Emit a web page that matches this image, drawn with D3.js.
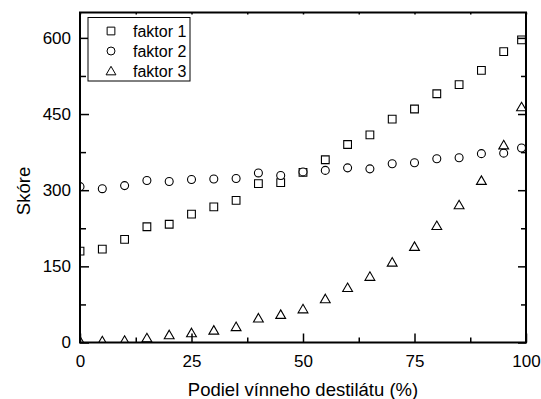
<!DOCTYPE html>
<html><head><meta charset="utf-8">
<script src="https://cdn.jsdelivr.net/npm/d3@7"></script>
<style>body{margin:0;background:#fff}svg{display:block}text{font-family:Arial,"Liberation Sans",sans-serif;fill:#000}</style>
</head><body><svg id="c" width="541" height="399"></svg>
<script>
const xValues = [0,5,10,15,20,25,30,35,40,45,50,55,60,65,70,75,80,85,90,95,99];
const faktor1 = [180,184,203,228,233,253,267,280,313,315,335,360,390,409,440,460,490,508,536,573,596];
const faktor2 = [307,303,309,319,317,321,322,323,334,329,336,339,344,342,352,354,362,364,372,373,383];
const faktor3 = [3,3,4,9,15,19,24,31,48,55,66,86,108,130,158,189,230,271,319,389,464];
const seriesNames = ["faktor 1","faktor 2","faktor 3"];
const xTicks = [0,25,50,75,100];
const xMinor = [12.5,37.5,62.5,87.5];
const yTicks = [0,150,300,450,600];
const yMinor = [75,225,375,525];
const xLabel = "Podiel vínneho destilátu (%)";
const yLabel = "Skóre";

const L=80,R=526,T=12.5,B=342.5;
const svg=d3.select("#c");
const x=d3.scaleLinear().domain([0,100]).range([L,R]);
const y=d3.scaleLinear().domain([0,650]).range([B,T]);

svg.append("defs").append("clipPath").attr("id","clip").append("rect")
  .attr("x",L).attr("y",T).attr("width",R-L).attr("height",B-T);

const symbols=[d3.symbolSquare,d3.symbolCircle,d3.symbolTriangle];
const sizes=[60,50,42];
const data=[faktor1,faktor2,faktor3];
const gPts=svg.append("g").attr("clip-path","url(#clip)");
data.forEach((vals,i)=>{
  const sym=d3.symbol().type(symbols[i]).size(sizes[i]);
  gPts.selectAll(null).data(vals).enter().append("path")
    .attr("d",sym)
    .attr("transform",(d,j)=>`translate(${x(xValues[j])},${y(d)+(i==2?1:0)})`)
    .attr("fill","#fff").attr("stroke","#000").attr("stroke-width",1.1);
});

// axes with inward ticks
const ax=(g,gen)=>{g.call(gen);g.select(".domain").remove();g.selectAll("line").attr("stroke","#000").attr("stroke-width",1.5);};
svg.append("g").attr("transform",`translate(0,${B})`).call(g=>ax(g,d3.axisBottom(x).tickValues(xTicks).tickSize(-9).tickPadding(12).tickFormat(d3.format("d"))))
  .selectAll("text").attr("font-size",17);
svg.append("g").attr("transform",`translate(0,${B})`).call(g=>ax(g,d3.axisBottom(x).tickValues(xMinor).tickSize(-5).tickFormat("")));
svg.append("g").attr("transform",`translate(${L},0)`).call(g=>ax(g,d3.axisLeft(y).tickValues(yTicks).tickSize(-9).tickPadding(9).tickFormat(d3.format("d"))))
  .selectAll("text").attr("font-size",17);
svg.append("g").attr("transform",`translate(${L},0)`).call(g=>ax(g,d3.axisLeft(y).tickValues(yMinor).tickSize(-6).tickFormat("")));
svg.append("g").attr("transform",`translate(${R},0)`).call(g=>ax(g,d3.axisRight(y).tickValues(yTicks).tickSize(-8).tickFormat("")));
svg.append("g").attr("transform",`translate(${R},0)`).call(g=>ax(g,d3.axisRight(y).tickValues(yMinor).tickSize(-5).tickFormat("")));
svg.append("g").attr("transform",`translate(0,${T})`).call(g=>ax(g,d3.axisTop(x).tickValues(xTicks.concat(xMinor)).tickSize(-2).tickFormat("")));

svg.append("rect").attr("x",L).attr("y",T).attr("width",R-L).attr("height",B-T)
  .attr("fill","none").attr("stroke","#000").attr("stroke-width",2);

svg.append("text").attr("x",(L+R)/2).attr("y",396).attr("text-anchor","middle").attr("font-size",18.5).text(xLabel);
svg.append("text").attr("transform","translate(30,191) rotate(-90)").attr("text-anchor","middle").attr("font-size",18.5).text(yLabel);

// legend
const lg=svg.append("g");
lg.append("rect").attr("x",88).attr("y",17.5).attr("width",102).attr("height",63.5).attr("fill","#fff").attr("stroke","#000").attr("stroke-width",1);
seriesNames.forEach((n,i)=>{
  const cy=31+i*20;
  lg.append("path").attr("d",d3.symbol().type(symbols[i]).size(sizes[i])()).attr("transform",`translate(111,${cy+(i==2?1:0)})`)
    .attr("fill","#fff").attr("stroke","#000");
  lg.append("text").attr("x",133).attr("y",cy+5.5).attr("font-size",16).text(n);
});
</script></body></html>
